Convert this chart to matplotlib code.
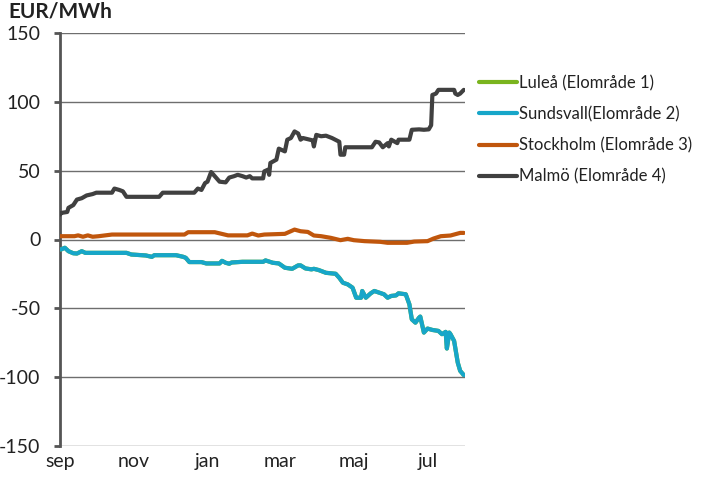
import numpy as np
import matplotlib
matplotlib.use("Agg")
import matplotlib.pyplot as plt
import matplotlib.dates as mdates

plt.rcParams['font.family'] = ['Lato', 'DejaVu Sans']

start = np.datetime64('2011-09-01')
end = np.datetime64('2012-08-01')

# Price differences per bidding area (EUR/MWh), sampled by day offset from 1 Sep
malmo_days = [0, 1, 6, 7, 11, 14, 18, 22, 27, 30, 43, 45, 49, 52, 55, 82, 85, 111, 114, 117,
              120, 122, 125, 128, 132, 137, 140, 144, 147, 151, 154, 157, 159, 168, 169, 172,
              173, 174, 179, 181, 186, 188, 191, 194, 197, 199, 201, 209, 210, 212, 216, 220,
              225, 231, 232, 235, 236, 258, 261, 264, 267, 271, 272, 274, 279, 280, 289, 291,
              297, 301, 305, 307, 308, 311, 313, 326, 327, 329, 331, 334]
malmo_vals = [18, 19.3, 20, 23, 25, 29, 30, 32, 33, 34, 34, 37, 36, 35, 31, 31, 34, 34, 37, 36,
              41, 42, 49, 46, 42, 41.5, 45, 46, 47, 46, 45, 46, 44.4, 44.4, 49.5, 50.7,
              47, 55.6, 58, 66, 64, 72.5, 73.7, 78.5, 77, 72.5, 73.7, 72, 67.6, 76, 75, 75.4,
              73.7, 71, 61.6, 61.6, 67, 67, 71, 70.5, 67, 70, 67.6, 72.5, 70, 72.5, 72.5, 79.7,
              80, 79.7, 80, 83, 105, 106, 108.7, 108.7, 106, 105, 106, 108.7]

stockholm_days = [0, 12, 15, 19, 23, 27, 32, 43, 103, 106, 128, 139, 155, 159, 164, 169, 186,
                  194, 199, 205, 210, 216, 224, 232, 238, 243, 252, 265, 271, 287, 293, 304,
                  309, 315, 323, 331, 334]
stockholm_vals = [2.4, 2.4, 3, 2, 3, 2, 2.4, 3.6, 3.6, 5.3, 5.3, 3, 3, 4.3, 2.9, 3.6, 4.1,
                  7.2, 6, 5.5, 2.9, 2.4, 1.2, -0.5, 0.5, -0.5, -1.2, -1.7, -2.4, -2.4, -1.5, -1.2,
                  0.7, 2.4, 2.9, 4.8, 4.8]

sundsvall_days = [0, 1, 4, 7, 11, 14, 18, 21, 55, 59, 71, 76, 78, 96, 102, 104, 107, 117, 121,
                  132, 134, 137, 140, 142, 151, 168, 170, 176, 181, 186, 192, 197, 199, 203,
                  208, 210, 214, 220, 228, 231, 234, 238, 242, 245, 249, 250, 253, 257, 260,
                  264, 268, 271, 274, 278, 280, 286, 289, 291, 294, 297, 298, 301, 304, 308,
                  313, 316, 319, 320, 322, 323, 326, 329, 331, 334]
sundsvall_vals = [-7.2, -7.2, -6, -8.5, -10, -10.2, -8.5, -9.7, -9.7, -10.9, -11.6, -12.6,
                  -11.4, -11.4, -12.6, -13.3, -16.4, -16.4, -17.4, -17.4, -15.5, -16.9, -17.6,
                  -16.7, -16.2, -16.2, -15.2, -16.9, -17.4, -20.5, -21.3, -18.8, -18.8, -21,
                  -21.7, -21.3, -22.2, -24.2, -24.9, -27.8, -31.4, -32.6, -35, -42.3, -42.3,
                  -37.4, -42.3, -39.1, -37.4, -38.6, -39.8, -42.3, -41, -40.6, -39.1, -39.8,
                  -47.1, -58, -60.4, -56.8, -56, -67.6, -64.7, -65.7, -66.4, -68.8, -67.1,
                  -79.2, -67.6, -68.8, -73.7, -89.4, -95.4, -98.5]

# Luleå tracks Sundsvall over the whole period
lulea_days = list(sundsvall_days)
lulea_vals = list(sundsvall_vals)

series = [
    ("Luleå (Elområde 1)", lulea_days, lulea_vals, "#7AB41E"),
    ("Sundsvall(Elområde 2)", sundsvall_days, sundsvall_vals, "#17A6C9"),
    ("Stockholm (Elområde 3)", stockholm_days, stockholm_vals, "#C0560C"),
    ("Malmö (Elområde 4)", malmo_days, malmo_vals, "#404040"),
]

y_ticks = [-150, -100, -50, 0, 50, 100, 150]
month_labels = {9: "sep", 11: "nov", 1: "jan", 3: "mar", 5: "maj", 7: "jul"}

fig = plt.figure(figsize=(7.01, 4.79), dpi=100)
ax = fig.add_axes([60 / 701, 1 - 446 / 479, 405 / 701, 413 / 479])

handles = []
for name, days, vals, color in series:
    dates = start + np.array(days).astype('timedelta64[D]')
    h, = ax.plot(dates.astype('datetime64[D]').astype(object), vals, color=color, lw=3.0,
                 solid_joinstyle='round', solid_capstyle='round', label=name, zorder=3)
    handles.append(h)

ax.set_ylim(-150, 150)
ax.set_yticks(y_ticks)
ax.set_yticklabels([str(v) for v in y_ticks])
ax.set_xlim(start.astype(object), end.astype(object))
ax.xaxis.set_major_locator(mdates.MonthLocator(bymonth=[9, 11, 1, 3, 5, 7]))
ax.xaxis.set_major_formatter(plt.FuncFormatter(
    lambda x, pos: month_labels.get(mdates.num2date(x).month, "")))

ax.grid(axis='y', color='#6E6E6E', lw=1.0, zorder=1)
for side in ('top', 'right', 'bottom'):
    ax.spines[side].set_visible(False)
ax.spines['left'].set_color('#555555')
ax.spines['left'].set_linewidth(2.0)
ax.tick_params(axis='y', length=4, width=2, color='#555555', labelsize=14,
               labelcolor='#222222', pad=10)
ax.tick_params(axis='x', length=0, labelsize=14, labelcolor='#222222', pad=5)

fig.text(8 / 701, 1 - 11 / 479, "EUR/MWh", fontsize=15, fontweight='bold',
         color='#222222', va='center', ha='left')

fig.legend(handles=handles, loc='upper left', bbox_to_anchor=(464 / 701, 1 - 60 / 479),
           frameon=False, fontsize=12, handlelength=2.3, handletextpad=0.1,
           labelspacing=0.9, labelcolor='#222222')

fig.savefig("out.png", dpi=100)
